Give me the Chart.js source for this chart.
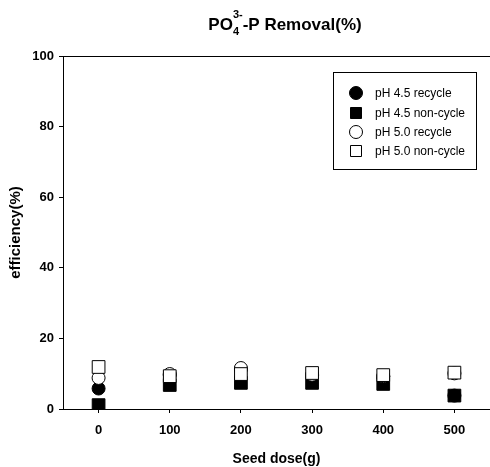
<!DOCTYPE html>
<html>
<head>
<meta charset="utf-8">
<script src="https://cdn.jsdelivr.net/npm/chart.js@4"></script>
<style>
  html, body { margin: 0; padding: 0; background: #fff; overflow: hidden; }
  #wrap { width: 500px; height: 467px; }
</style>
</head>
<body>
<div id="wrap"><canvas id="seedChart"></canvas></div>
<script>
// values
const seedDose = [0, 100, 200, 300, 400, 500];
const ph45Recycle = [5.8, 9.6, 11.3, 9.5, 9.2, 3.8];
const ph45NonCycle = [1.1, 6.8, 7.4, 7.4, 7.1, 3.8];
const ph50Recycle = [8.8, 9.9, 11.6, 9.7, 9.3, 10.1];
const ph50NonCycle = [11.9, 9.3, 9.9, 10.2, 9.6, 10.3];
const xTicks = [0, 100, 200, 300, 400, 500];
const yTicks = [0, 20, 40, 60, 80, 100];

const toPoints = vals => seedDose.map((d, i) => ({ x: d, y: vals[i] }));
const font = 'Arial, "Liberation Sans", sans-serif';

const datasets = [
    { label: 'pH 4.5 recycle', data: toPoints(ph45Recycle), pointStyle: 'circle', radius: 6.5, bg: '#000', order: 4 },
    { label: 'pH 4.5 non-cycle', data: toPoints(ph45NonCycle), pointStyle: 'rect', radius: 9, bg: '#000', order: 3 },
    { label: 'pH 5.0 recycle', data: toPoints(ph50Recycle), pointStyle: 'circle', radius: 6.5, bg: '#fff', order: 2 },
    { label: 'pH 5.0 non-cycle', data: toPoints(ph50NonCycle), pointStyle: 'rect', radius: 9, bg: '#fff', order: 1 }
].map(d => ({
    label: d.label,
    data: d.data,
    order: d.order,
    showLine: false,
    pointStyle: d.pointStyle,
    pointRadius: d.radius,
    pointHoverRadius: d.radius,
    pointBackgroundColor: d.bg,
    pointBorderColor: '#000',
    pointBorderWidth: 1
}));

// title with sub/superscript, frame and boxed legend
const extras = {
    id: 'extras',
    afterDraw(chart) {
        const ctx = chart.ctx;
        const a = chart.chartArea;
        ctx.save();
        ctx.strokeStyle = '#000';
        ctx.lineWidth = 1;
        ctx.beginPath();
        ctx.moveTo(a.left, a.top + 0.5);
        ctx.lineTo(a.right, a.top + 0.5);
        ctx.stroke();

        // title
        ctx.fillStyle = '#000';
        ctx.textBaseline = 'alphabetic';
        const big = 'bold 17px ' + font, small = 'bold 11px ' + font;
        ctx.font = big;
        const wPO = ctx.measureText('PO').width;
        ctx.font = small;
        const wSub = ctx.measureText('3-').width;
        ctx.font = big;
        const wRest = ctx.measureText('-P Removal(%)').width;
        let x = 285 - (wPO + wSub + wRest) / 2;
        const base = 30;
        ctx.textAlign = 'left';
        ctx.fillText('PO', x, base);
        x += wPO;
        ctx.font = small;
        ctx.fillText('4', x, base + 5);
        ctx.fillText('3-', x, base - 12);
        x += wSub;
        ctx.font = big;
        ctx.fillText('-P Removal(%)', x, base);

        // legend
        const lx = 333.5, ly = 72.5, lw = 143, lh = 97;
        ctx.strokeRect(lx, ly, lw, lh);
        ctx.font = '12px ' + font;
        ctx.textBaseline = 'middle';
        const rowY = [93, 113, 132, 151];
        datasets.forEach((d, i) => {
            const cx = 356, cy = rowY[i];
            ctx.fillStyle = d.pointBackgroundColor;
            ctx.beginPath();
            if (d.pointStyle === 'circle') {
                ctx.arc(cx, cy, 6.5, 0, Math.PI * 2);
            } else {
                ctx.rect(cx - 5.5, cy - 5.5, 11, 11);
            }
            ctx.fill();
            ctx.stroke();
            ctx.fillStyle = '#000';
            ctx.fillText(d.label, 375, cy + 1);
        });
        ctx.restore();
    }
};

new Chart(document.getElementById('seedChart'), {
    type: 'scatter',
    data: { datasets: datasets },
    options: {
        responsive: true,
        maintainAspectRatio: false,
        animation: false,
        layout: { padding: { top: 56, right: 7, left: 0, bottom: 0 } },
        plugins: {
            legend: { display: false },
            tooltip: { enabled: false }
        },
        scales: {
            x: {
                type: 'linear',
                min: -50,
                max: 550,
                afterBuildTicks: s => { s.ticks = xTicks.map(v => ({ value: v })); },
                afterFit: s => { s.height = 58; },
                grid: { drawOnChartArea: false, tickLength: 4, color: '#000' },
                border: { color: '#000', width: 1 },
                ticks: { color: '#000', padding: 10, font: { family: font, size: 13, weight: 'bold' } },
                title: {
                    display: true, text: 'Seed dose(g)', color: '#000', padding: { top: 0, bottom: -1 },
                    font: { family: font, size: 14, weight: 'bold' }
                }
            },
            y: {
                min: 0,
                max: 100,
                afterBuildTicks: s => { s.ticks = yTicks.map(v => ({ value: v })); },
                afterFit: s => { s.width = 63; },
                grid: { drawOnChartArea: false, tickLength: 4, color: '#000' },
                border: { color: '#000', width: 1 },
                ticks: { color: '#000', padding: 5, font: { family: font, size: 13, weight: 'bold' } },
                title: {
                    display: true, text: 'efficiency(%)', color: '#000', padding: { top: 7, bottom: 0 },
                    font: { family: font, size: 15, weight: 'bold' }
                }
            }
        }
    },
    plugins: [extras]
});
</script>
</body>
</html>
